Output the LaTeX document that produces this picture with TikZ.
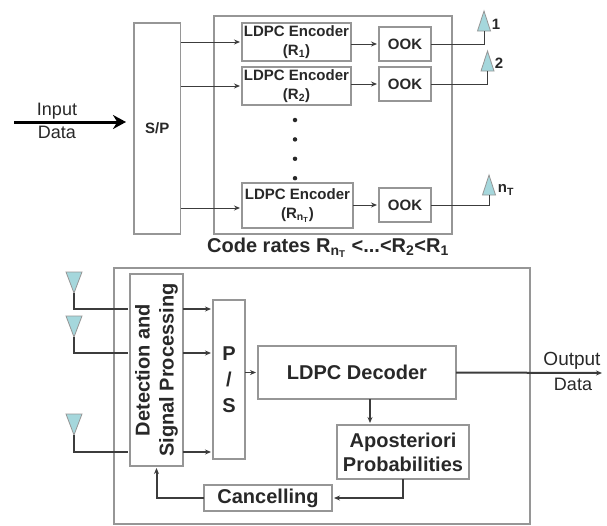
\documentclass[tikz,border=0pt]{standalone}
\usepackage{fontspec}
\setmainfont{Liberation Sans}
\usetikzlibrary{shapes.geometric,arrows.meta,positioning}
\definecolor{boxgray}{RGB}{150,150,150}
\definecolor{wiregray}{RGB}{60,60,60}
\definecolor{inkgray}{RGB}{40,40,40}
\definecolor{antcyan}{RGB}{165,215,220}

\begin{document}
\begin{tikzpicture}[
  x=1pt, y=1pt,
  blk/.style  = {rectangle, draw=boxgray, line width=1.1pt, inner sep=0pt, outer sep=0pt,
                 minimum width=#1, align=center, text=inkgray},
  txs/.style  = {font=\fontsize{15}{19}\selectfont\bfseries},
  txl/.style  = {font=\fontsize{20}{24}\selectfont\bfseries},
  lbl/.style  = {inner sep=0pt, text=inkgray, font=\fontsize{18}{22}\selectfont},
  wire/.style = {draw=wiregray, line width=#1},
  wire/.default = 1pt,
  arr/.style  = {-{Stealth[length=6pt,width=5pt]}, wiregray, line width=#1, shorten >=2pt},
  arr/.default = 1pt,
  ant/.style  = {isosceles triangle, isosceles triangle apex angle=36, isosceles triangle stretches,
                 draw=boxgray, fill=antcyan, line width=0.8pt, inner sep=0pt, outer sep=0pt,
                 minimum width=13pt, minimum height=20pt, shape border rotate=#1, anchor=lower side},
  dot/.style  = {circle, fill=inkgray, inner sep=0pt, minimum size=4.5pt},
]
\useasboundingbox (0,0) rectangle (607,-525);

% transmitter
\node[blk=238pt, minimum height=218pt] (txbox) at (333,-125) {};
\node[blk=46.5pt, minimum height=211pt, txs] (sp) at (157.25,-128.5) {S/P};
\node[blk=109pt, minimum height=38pt, txs] (enc1) at (296.5,-42) {LDPC Encoder\\(R\textsubscript{1})};
\node[blk=109pt, minimum height=38pt, txs, below=6pt of enc1] (enc2) {LDPC Encoder\\(R\textsubscript{2})};
\node[blk=111pt, minimum height=45pt, txs] (enc3) at (297.5,-205.5) {LDPC Encoder\\(R\textsubscript{n\textsubscript{T}})};
\node[blk=52pt, minimum height=34pt, txs, right=28pt of enc1, yshift=-2pt] (ook1) {OOK};
\node[blk=52pt, minimum height=34pt, txs, below=6pt of ook1] (ook2) {OOK};
\node[blk=52pt, minimum height=34pt, txs] (ook3) at (405,-205) {OOK};

\node[dot] (dot1) at (295,-120) {};
\node[dot, below=14.5pt of dot1] (dot2) {};
\node[dot, below=14.5pt of dot2] (dot3) {};
\node[dot, below=14.5pt of dot3] (dot4) {};

\node[ant=90] (tant1) at (484,-31) {};
\node[ant=90] (tant2) at (487.5,-71) {};
\node[ant=90] (tant3) at (489,-195) {};
\node[txs, inner sep=0pt, text=inkgray] (tlab1) at (496,-24) {1};
\node[txs, inner sep=0pt, text=inkgray] (tlab2) at (499,-63) {2};
\node[txs, inner sep=0pt, text=inkgray] (tlab3) at (506,-190) {n\textsubscript{T}};

\node[lbl] (indata1) at (57,-111) {Input};
\node[lbl] (indata2) at (57,-132) {Data};
\node[txl, inner sep=0pt, text=inkgray] (rates) at (328,-248)
  {Code rates R\textsubscript{n\textsubscript{T}} <...<R\textsubscript{2}<R\textsubscript{1}};

\coordinate (instart) at (14,-122);
\coordinate (tap3) at (242,-208);

\draw[arr=3pt, -{Stealth[length=13pt,width=14pt]}, black, shorten >=8pt] (instart) -- (instart -| sp.west);
\draw[arr] (sp.east |- enc1) -- (enc1.west);
\draw[arr] (sp.east |- enc2) -- (enc2.west);
\draw[arr] (sp.east |- tap3) -- (tap3);
\draw[arr] (enc1.east |- ook1) -- (ook1.west);
\draw[arr] (enc2.east |- ook2) -- (ook2.west);
\draw[arr] (enc3.east |- ook3) -- (ook3.west);
\draw[wire] (ook1.east) -| (tant1.lower side);
\draw[wire] (ook2.east) -| (tant2.lower side);
\draw[wire] (ook3.east) -| (tant3.lower side);

% receiver
\node[blk=416pt, minimum height=256pt] (rxbox) at (322,-396) {};
\node[blk=53pt, minimum height=192pt] (det) at (156.5,-370) {};
\node[txl, inner sep=0pt, align=center, rotate=90, text=inkgray] (dettext) at (det.center)
  {Detection and\\Signal Processing};
\node[blk=32pt, minimum height=159pt, txl] (ps) at (229,-379.5) {P\\[2pt]/\\[2pt]S};
\node[blk=198pt, minimum height=53pt, txl] (dec) at (357,-372.5) {LDPC Decoder};
\node[blk=132pt, minimum height=54pt, txl] (app) at (403,-452) {Aposteriori\\Probabilities};
\node[blk=128pt, minimum height=26pt, txl] (can) at (268,-498) {Cancelling};

\node[ant=270, minimum width=16pt, minimum height=21pt] (rant1) at (74,-272) {};
\node[ant=270, minimum width=16pt, minimum height=21pt] (rant2) at (74,-316) {};
\node[ant=270, minimum width=16pt, minimum height=21pt] (rant3) at (74,-414) {};

\node[lbl, font=\fontsize{19}{22}\selectfont] (outdata1) at (572,-361) {Output};
\node[lbl] (outdata2) at (573,-384) {Data};

\coordinate (rx1) at (128,-309);
\coordinate (rx2) at (128,-353);
\coordinate (rx3) at (128,-452);
\coordinate (outend) at (602,-373);
\coordinate (tapdec) at (370,-399);

\draw[wire=2pt] (rant1.apex) |- (rx1);
\draw[wire=2pt] (rant2.apex) |- (rx2);
\draw[wire=2pt] (rant3.apex) |- (rx3);
\draw[arr=1.5pt] (det.east |- rx1) -- (ps.west |- rx1);
\draw[arr=1.5pt] (det.east |- rx2) -- (ps.west |- rx2);
\draw[arr=1.5pt] (det.east |- rx3) -- (ps.west |- rx3);
\draw[arr=1.5pt] (ps.east |- dec) -- (dec.west);
\draw[arr=2pt, shorten >=0pt] (dec.east) -- (outend);
\draw[arr=1.5pt] (tapdec) -- (tapdec |- app.north);
\draw[arr=2pt] (app.south) |- (can.east);
\draw[arr=2pt] (can.west) -| (det.south);
\end{tikzpicture}
\end{document}
